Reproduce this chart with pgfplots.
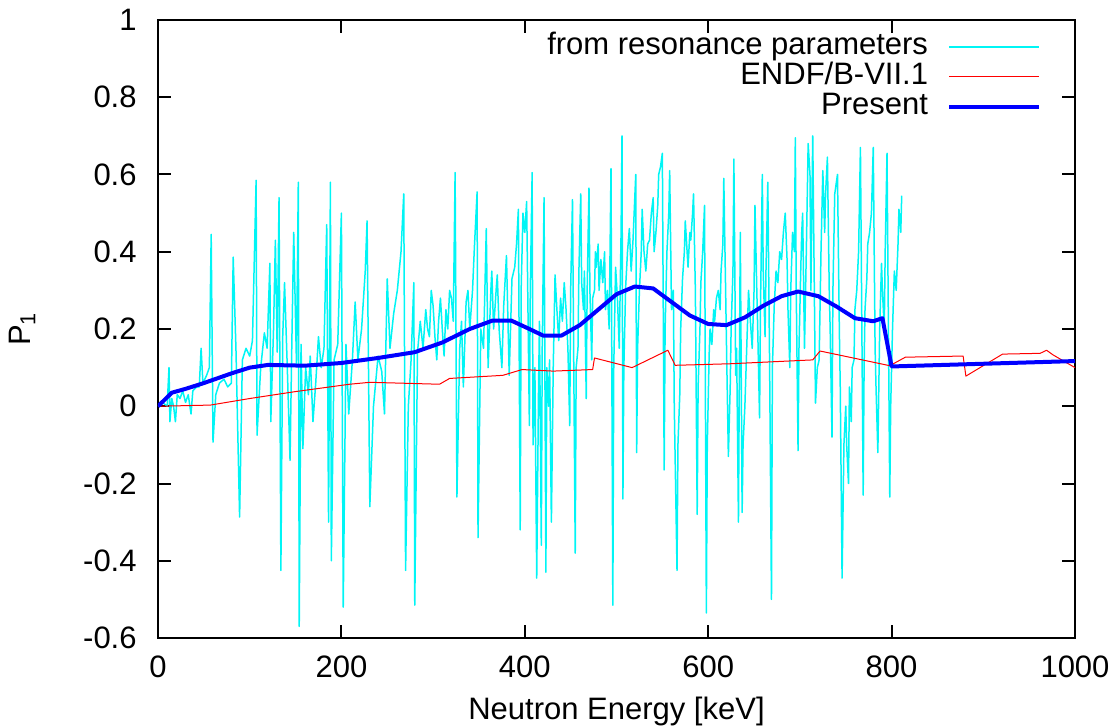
\documentclass[border=0pt]{standalone}
\usepackage{fontspec}
\setmainfont{Liberation Sans}
\usepackage{pgfplots}
\pgfplotsset{compat=1.18}
\newcommand{\ff}{\fontsize{15.5bp}{18bp}\selectfont}
\begin{document}
\begin{tikzpicture}
\begin{axis}[
  scale only axis,
  width=458.5bp, height=309bp,
  xmin=0, xmax=1000, ymin=-0.6, ymax=1,
  xtick={0,200,400,600,800,1000},
  xticklabels={0,200,400,600,800,1000},
  ytick={-0.6,-0.4,-0.2,0,0.2,0.4,0.6,0.8,1},
  yticklabels={-0.6,-0.4,-0.2,0,0.2,0.4,0.6,0.8,1},
  tick align=inside,
  major tick length=6.5bp,
  minor tick num=0,
  axis line style={line width=1bp, black},
  every tick/.style={line width=1bp, black},
  tick label style={font=\ff},
  xticklabel style={anchor=north, inner sep=0pt, yshift=-8.5bp},
  yticklabel style={anchor=east, inner sep=0pt, xshift=-10.5bp},
  xlabel={Neutron Energy [keV]},
  ylabel={P\textsubscript{1}},
  label style={font=\ff},
  xlabel style={at={(axis description cs:0.5,-0.1197)}, anchor=center},
  ylabel style={at={(axis description cs:-0.148,0.5)}, anchor=center},
  legend style={draw=none, fill=none, font=\ff, at={(0.963,0.979)}, anchor=north east,
    inner sep=0pt, outer sep=0pt, row sep=1bp, column sep=9.5bp,
    nodes={inner sep=0pt, text height=11bp, text depth=3bp}},
  legend cell align=right,
  legend plot pos=right,
  legend image code/.code={\draw[#1] (0bp,0bp) -- (45bp,0bp);},
]
\addplot[color={rgb,255:red,0;green,245;blue,245}, line width=0.75bp, line join=round] coordinates {
(0,0) (5,0.01) (10,0.0) (12,0.10) (13,-0.04) (15,0.02) (17,0.0) (19,-0.04) (21,0.03) (24,0.02)
(27,0.04) (30,0.01) (33,0.03) (36,-0.02) (38,0.04) (42,0.05) (45,0.05) (47,0.15) (49,0.06) (53,0.08)
(56,0.10) (58,0.445) (60,-0.093) (63,0.03) (67,0.06) (72,0.07) (76,0.05) (80,0.06) (82,0.386) (85,0.15)
(89,-0.287) (92,0.12) (96,0.15) (100,0.13) (103,0.17) (107,0.585) (108,-0.075) (112,0.10) (116,0.19) (119,0.15)
(122,0.37) (123,-0.04) (126,0.20) (128,0.43) (130,0.14) (132,0.54) (134,-0.425) (136,0.18) (138,0.32) (141,0.10)
(144,-0.14) (146,0.17) (148,0.45) (151,0.11) (153,0.58) (154,-0.57) (156,0.16) (158,-0.11) (161,0.10) (164,0.03)
(166,0.13) (169,-0.04) (172,0.06) (175,0.18) (178,0.10) (181,0.15) (184,0.47) (186,-0.30) (188,0.58) (189,-0.40)
(192,0.12) (196,0.16) (200,0.50) (202,-0.52) (205,0.16) (208,-0.02) (212,0.12) (215,0.27) (218,0.12) (222,0.20)
(226,0.35) (228,0.48) (231,-0.26) (235,0.0) (240,0.13) (244,0.09) (247,-0.02) (250,0.33) (253,0.15) (257,0.24)
(261,0.30) (265,0.40) (268,0.55) (270,-0.425) (273,0.0) (276,0.12) (279,0.32) (280,-0.515) (283,0.14) (286,0.22)
(289,0.15) (292,0.25) (294,0.20) (296,0.18) (298,0.30) (300,0.26) (302,0.18) (304,0.12) (306,0.22) (308,0.28) (310,0.20) (312,0.13) (314,0.25) (316,0.20) (318,0.30) (320,0.28) (322,0.22) (324,0.605)
(326,-0.235) (329,0.15) (331,0.22) (333,0.05) (336,0.27) (338,0.30) (340,0.20) (343,0.30) (345,0.41) (348,0.555) (349,-0.34) (352,0.20)
(355,0.15) (358,0.46) (360,0.10) (363,0.30) (364,0.35) (366,0.20) (369,0.31) (370,0.34) (372,0.20) (375,0.10) (377,0.26) (380,0.39)
(383,0.08) (386,0.33) (389,0.36) (391,0.42) (393,0.51) (395,-0.32) (396,0.30) (398,0.50) (400,0.45) (402,0.53) (405,-0.05) (406,0.30) (408,0.605) (409,-0.10)
(411,0.10) (413,-0.445) (415,0.05) (416,0.22) (418,-0.36) (419,0.15) (421,0.54) (423,-0.43) (424,0.10) (426,0.0) (427,0.12) (429,-0.30) (431,0.10) (433,0.34) (435,0.25) (437,0.17) (439,0.28) (441,0.22) (443,0.32)
(445,0.25) (447,0.15) (449,-0.05) (450,0.30) (452,0.535) (455,-0.38) (456,0.10) (458,0.15) (459,0.35) (461,0.55) (462,0.32) (464,0.25) (465,0.35) (467,0.02) (468,0.30) (470,0.565) (471,0.30) (473,0.12)
(474,0.28) (476,0.30) (477,0.40) (478,0.36) (480,0.42) (481,0.30) (483,0.38) (485,0.32) (487,0.40) (488,0.25) (490,0.30) (492,0.20) (494,0.615) (496,-0.515) (497,0.10) (499,0.36) (501,0.28) (503,0.15)
(504,0.30) (505,0.45) (506,0.70) (507,-0.24) (508,0.10) (510,0.31) (512,0.40) (514,0.46) (516,0.35) (518,0.43) (521,0.60) (522,-0.12) (523,0.15) (525,0.30) (527,0.40) (528,0.51)
(530,0.40) (532,0.35) (534,0.42) (536,0.43) (538,0.50) (540,0.54) (541,0.40) (543,0.45) (545,0.52) (546,0.60) (548,0.62) (550,0.655) (552,-0.165) (553,0.20) (555,0.40) (557,0.50) (558,0.61)
(560,0.25) (562,0.30) (563,0.0) (566,-0.425) (567,-0.10) (569,0.03) (570,0.20) (572,0.33) (574,0.40) (575,0.48) (577,0.40) (578,0.36) (580,0.45) (581,0.43) (583,0.50) (584,0.55) (586,0.30) (588,-0.28)
(589,0.05) (591,0.2) (592,0.32) (594,0.40) (596,0.52) (598,-0.535) (599,-0.10) (601,0.13) (602,0.20) (604,0.16) (606,0.25) (607,0.22) (609,0.28) (611,0.30) (613,0.25) (614,0.35) (616,0.42) (617,0.59)
(619,0.30) (620,0.15) (622,-0.13) (624,0.05) (625,0.20) (627,0.35) (628,0.64) (630,0.08) (631,0.15) (633,-0.30) (634,0.10) (635,0.45) (637,-0.275) (638,-0.10) (640,0.0) (642,0.15) (644,0.30) (646,0.22)
(648,0.15) (650,0.30) (651,0.52) (653,0.30) (654,0.20) (656,-0.03) (657,0.25) (659,0.60) (660,0.35) (662,0.18) (663,0.35) (665,0.58) (667,0.10) (669,-0.50) (670,0.10) (672,0.26) (674,0.35)
(676,0.32) (678,0.40) (680,0.38) (682,0.45) (684,0.50) (686,0.38) (687,0.25) (689,0.10) (690,0.30) (692,0.45) (694,0.40) (695,0.695) (696,0.30) (698,-0.115) (699,0.15) (701,0.36) (702,0.45)
(703,0.50) (705,0.15) (707,0.40) (709,0.68) (711,0.60) (712,0.30) (714,0.70) (717,0.008) (719,0.10) (721,0.12) (723,0.40) (725,0.61) (727,0.45) (728,0.55)
(730,0.645) (732,0.30) (733,0.20) (735,-0.08) (736,0.30) (738,0.55) (741,0.60) (743,0.2) (744,0.05) (746,-0.445) (748,-0.10) (750,0.0) (751,-0.10) (753,-0.20) (754,0.05) (756,-0.04)
(757,0.10) (759,0.12) (760,0.25) (762,0.30) (764,0.40) (766,0.67) (769,-0.23) (770,0.10) (771,0.25) (773,0.33) (774,0.42) (776,0.45) (778,0.50) (780,0.67) (782,0.15) (783,0.05) (785,-0.12)
(787,0.20) (789,0.37) (790,0.30) (792,0.20) (793,0.40) (795,0.655) (798,-0.235) (799,0.0) (801,0.20) (803,0.35) (805,0.30) (807,0.42) (808,0.51) (810,0.45) (811,0.545)
};
\addlegendentry{from resonance parameters}
\addplot[color=red, line width=0.5bp, line join=round] coordinates {
(0,0) (57,0.003) (100,0.02) (150,0.038) (209,0.057) (231,0.062) (307,0.057) (318,0.072) (376,0.08)
(397,0.095) (431,0.091) (474,0.095) (476,0.125) (517,0.10) (556,0.145) (564,0.106) (624,0.11)
(714,0.12) (722,0.143) (798,0.105) (815,0.127) (878,0.13) (881,0.078) (921,0.135) (962,0.137)
(969,0.145) (976,0.133) (1000,0.10)
};
\addlegendentry{ENDF/B-VII.1}
\addplot[color=blue, line width=2bp, line join=round] coordinates {
(0,0) (15,0.035) (30,0.045) (50,0.06) (80,0.085) (100,0.10) (120,0.107) (160,0.105) (200,0.112)
(240,0.125) (280,0.14) (310,0.165) (340,0.2) (365,0.222) (385,0.222) (405,0.2) (420,0.183)
(440,0.183) (460,0.21) (480,0.25) (500,0.29) (520,0.31) (540,0.305) (560,0.27) (580,0.235)
(600,0.213) (620,0.21) (640,0.23) (660,0.26) (680,0.285) (698,0.297) (720,0.285) (740,0.258)
(760,0.228) (780,0.22) (790,0.228) (800,0.103) (1000,0.117)
};
\addlegendentry{Present}
\end{axis}
\pgfresetboundingbox
\path[use as bounding box] ([xshift=-79bp,yshift=-45bp]current axis.south west) rectangle ([xshift=20bp,yshift=10bp]current axis.north east);
\end{tikzpicture}
\end{document}
